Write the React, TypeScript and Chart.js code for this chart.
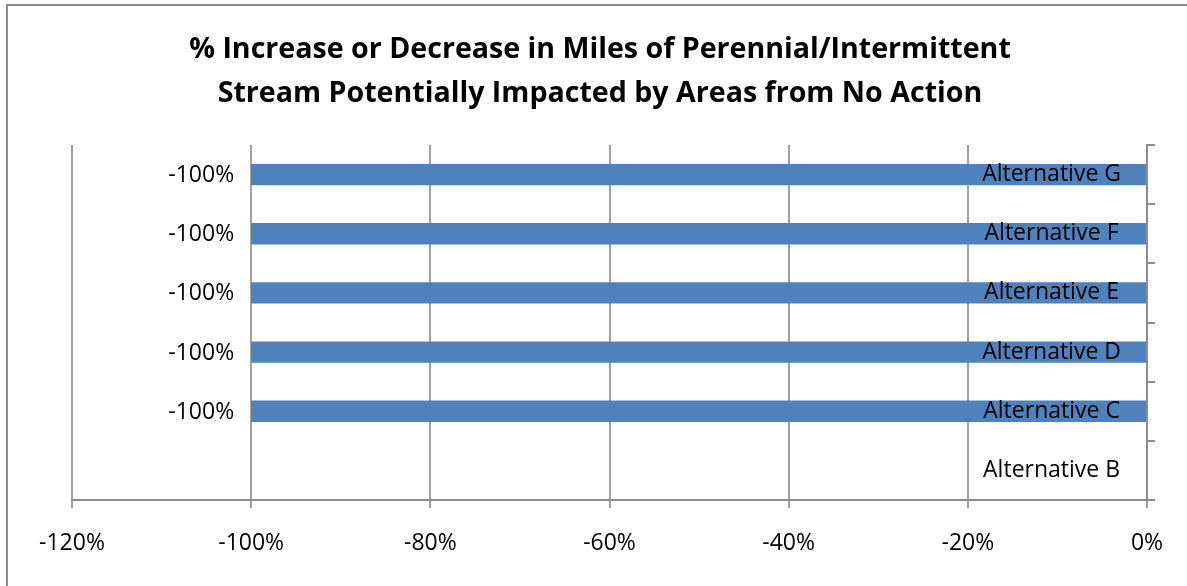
import { useEffect, useRef } from "react";
import { Chart, registerables } from "chart.js";

Chart.register(...registerables);

// Categories listed top to bottom as they appear on the axis
const categories = [
  "Alternative G",
  "Alternative F",
  "Alternative E",
  "Alternative D",
  "Alternative C",
  "Alternative B",
];

// Change in miles relative to No Action (fraction; -1 = -100%)
const changeFromNoAction: (number | null)[] = [-1, -1, -1, -1, -1, null];

const titleLines = [
  "% Increase or Decrease in Miles of Perennial/Intermittent",
  "Stream Potentially Impacted by Areas from No Action",
];

const xMin = -1.2;
const xMax = 0;
const xStep = 0.2;

const FONT = "'Open Sans', 'Noto Sans', sans-serif";
const GRID = "#a0a0a0";
const AXIS = "#8c8c8c";
const BAR = "#4F81BD";

const pct = (v: number) => `${Math.round(v * 100)}%`;

// Frame around the whole chart plus white background
const chartFrame = {
  id: "chartFrame",
  beforeDraw(chart: any) {
    const { ctx, width, height } = chart;
    ctx.save();
    ctx.fillStyle = "#ffffff";
    ctx.fillRect(0, 0, width, height);
    ctx.strokeStyle = "#8a8a8a";
    ctx.lineWidth = 2;
    ctx.strokeRect(7, 5, width + 20, height + 20);
    ctx.restore();
  },
};

// Value labels placed just beyond the end of each bar
const barValueLabels = {
  id: "barValueLabels",
  afterDatasetsDraw(chart: any) {
    const { ctx } = chart;
    const meta = chart.getDatasetMeta(0);
    const data = chart.data.datasets[0].data as (number | null)[];
    ctx.save();
    ctx.font = `23px ${FONT}`;
    ctx.fillStyle = "#000000";
    ctx.textAlign = "right";
    ctx.textBaseline = "middle";
    meta.data.forEach((bar: any, i: number) => {
      const v = data[i];
      if (v == null) return;
      ctx.fillText(pct(v), bar.x - 17, bar.y + 1);
    });
    ctx.restore();
  },
};

export default function App() {
  const canvasRef = useRef<HTMLCanvasElement | null>(null);

  useEffect(() => {
    if (!canvasRef.current) return;
    const chart = new Chart(canvasRef.current, {
      type: "bar",
      data: {
        labels: categories,
        datasets: [
          {
            data: changeFromNoAction as any,
            backgroundColor: BAR,
            borderWidth: 0,
            barPercentage: 0.36,
            categoryPercentage: 1,
          },
        ],
      },
      options: {
        indexAxis: "y",
        animation: false,
        responsive: false,
        layout: { padding: { left: 13, top: 0, right: 0, bottom: 0 } },
        plugins: {
          legend: { display: false },
          tooltip: { enabled: false },
          title: {
            display: true,
            text: titleLines,
            color: "#000000",
            font: { family: FONT, size: 28.6, weight: "bold", lineHeight: 44 / 28.6 },
            padding: { top: 28, bottom: 29 },
          },
        },
        scales: {
          x: {
            min: xMin,
            max: xMax,
            ticks: {
              stepSize: xStep,
              color: "#000000",
              font: { family: FONT, size: 23 },
              padding: 22,
              callback: (v: any) => pct(Number(v)),
            },
            grid: {
              color: GRID,
              lineWidth: 2,
              tickLength: 8,
              drawTicks: true,
            },
            border: { display: true, color: AXIS, width: 2 },
            afterFit: (scale: any) => {
              scale.height = 86;
            },
          },
          y: {
            position: "right",
            ticks: {
              z: 1,
              mirror: true,
              crossAlign: "center",
              padding: -26,
              color: "#000000",
              font: { family: FONT, size: 23 },
            },
            grid: {
              display: true,
              drawOnChartArea: false,
              drawTicks: true,
              tickLength: 8,
              color: AXIS,
              lineWidth: 2,
            },
            border: { display: true, color: AXIS, width: 2 },
            afterFit: (scale: any) => {
              scale.width = 40;
            },
          },
          // Empty left gutter so the plot starts inset from the frame
          gutter: {
            type: "category",
            position: "left",
            ticks: { display: false },
            grid: { display: false },
            border: { display: false },
            afterFit: (scale: any) => {
              scale.width = 59;
            },
          },
        },
      },
      plugins: [chartFrame, barValueLabels],
    });
    return () => chart.destroy();
  }, []);

  return (
    <div style={{ position: "absolute", left: 0, top: 0, width: 1187, height: 586 }}>
      <canvas ref={canvasRef} width={1187} height={586} style={{ display: "block" }} />
    </div>
  );
}
